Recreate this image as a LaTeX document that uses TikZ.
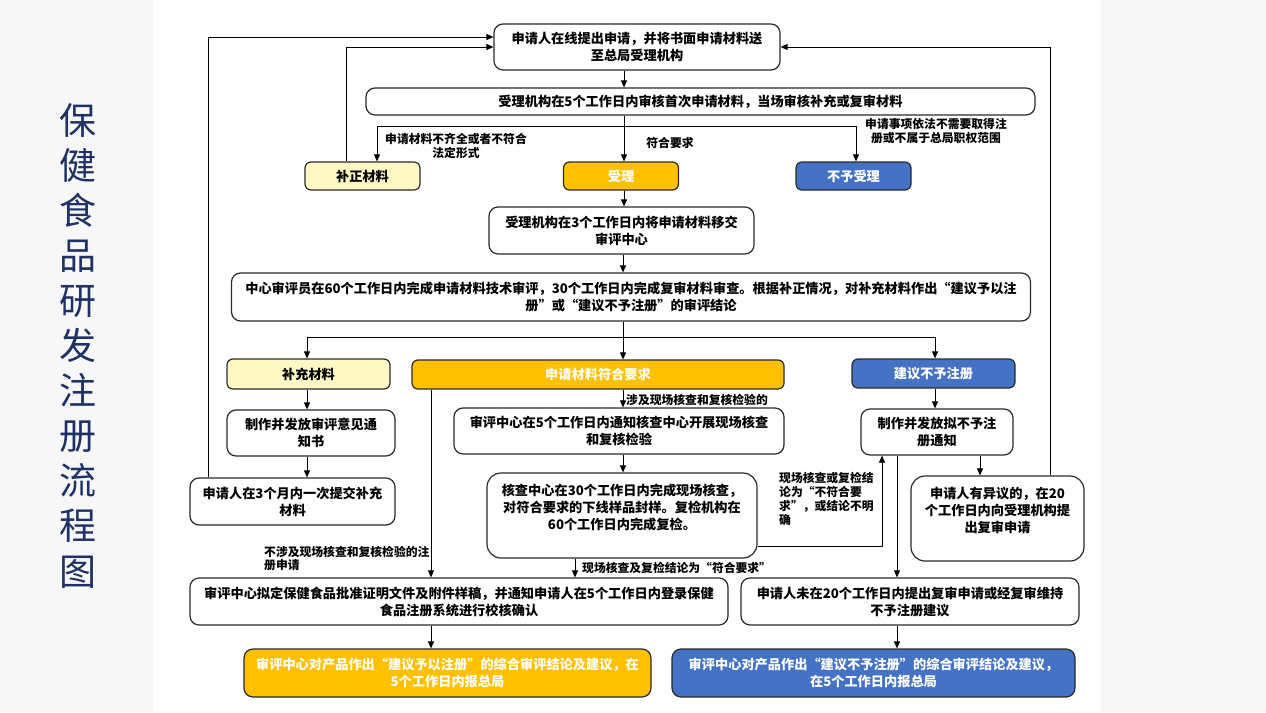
\documentclass[tikz,border=0pt]{standalone}
\usepackage{fontspec}
\setmainfont{Noto Sans CJK SC}
\usetikzlibrary{arrows.meta}
\definecolor{bgg}{HTML}{F7F7F7}
\definecolor{lineC}{HTML}{2A2A2A}
\definecolor{paleY}{HTML}{FFF8C5}
\definecolor{amber}{HTML}{FFC000}
\definecolor{blueB}{HTML}{4472C4}
\definecolor{titleC}{HTML}{1F3266}
\newcommand\mtext{\bfseries\fontsize{13.2}{17}\selectfont}
\newcommand\ltext{\bfseries\fontsize{11.8}{13.8}\selectfont}
\tikzset{
  wbox/.style={draw=lineC, line width=1.2pt, rounded corners=9pt, fill=white, align=center, inner sep=0pt, font=\mtext, text=black},
  tallbox/.style={wbox, rounded corners=14pt},
  ybox/.style={wbox, rounded corners=6pt, fill=paleY},
  abox/.style={wbox, rounded corners=6pt, fill=amber, text=white},
  bbox/.style={wbox, rounded corners=6pt, fill=blueB, text=white},
  lab/.style={font=\ltext, inner sep=0pt, text=black},
  conn/.style={draw=black, line width=0.9pt},
  arr/.style={conn, -{Triangle[length=7pt,width=6pt]}}
}
\begin{document}
\begin{tikzpicture}[x=1pt,y=-1pt]
\useasboundingbox (0,0) rectangle (1266,712);
\fill[bgg] (0,0) rectangle (1266,712);
\fill[white] (153,0) rectangle (1101,712);

% title
\node[font=\fontsize{37}{45.1}\selectfont, text=titleC, align=center, inner sep=0pt] (title) at (77.5,345.5)
  {保\\健\\食\\品\\研\\发\\注\\册\\流\\程\\图};

% boxes
\node[wbox, minimum width=286pt, minimum height=46pt] (b1) at (637,47) {申请人在线提出申请，并将书面申请材料送\\至总局受理机构};
\node[wbox, minimum width=669pt, minimum height=27pt] (b2) at (700.5,101.5) {受理机构在5个工作日内审核首次申请材料，当场审核补充或复审材料};
\node[ybox, minimum width=115pt, minimum height=28pt] (b3) at (362.5,176) {补正材料};
\node[abox, minimum width=115pt, minimum height=28pt] (b4) at (621,176) {受理};
\node[bbox, minimum width=115pt, minimum height=28pt] (b5) at (853.5,176) {不予受理};
\node[wbox, minimum width=265pt, minimum height=47pt] (b6) at (621.5,230.5) {受理机构在3个工作日内将申请材料移交\\审评中心};
\node[wbox, minimum width=799pt, minimum height=48pt] (b7) at (631,297) {中心审评员在60个工作日内完成申请材料技术审评，30个工作日内完成复审材料审查。根据补正情况，对补充材料作出“建议予以注\\册”或“建议不予注册”的审评结论};
\node[ybox, minimum width=163pt, minimum height=30pt] (b8) at (308.5,374) {补充材料};
\node[abox, minimum width=372pt, minimum height=29pt] (b9) at (598,374.5) {申请材料符合要求};
\node[bbox, minimum width=163pt, minimum height=29pt] (b10) at (933.5,373.5) {建议不予注册};
\node[wbox, minimum width=168pt, minimum height=46pt] (b11) at (311,433) {制作并发放审评意见通\\知书};
\node[wbox, minimum width=205pt, minimum height=47pt] (b12) at (292.5,501.5) {申请人在3个月内一次提交补充\\材料};
\node[wbox, minimum width=330pt, minimum height=46pt] (b13) at (619,431) {审评中心在5个工作日内通知核查中心开展现场核查\\和复核检验};
\node[tallbox, minimum width=270pt, minimum height=85pt] (b14) at (622,515.5) {核查中心在30个工作日内完成现场核查，\\对符合要求的下线样品封样。复检机构在\\60个工作日内完成复检。\\\mbox{}};
\node[wbox, minimum width=152pt, minimum height=46pt] (b15) at (937,432) {制作并发放拟不予注\\册通知};
\node[tallbox, minimum width=173pt, minimum height=85pt] (b16) at (997.5,518.5) {申请人有异议的，在20\\个工作日内向受理机构提\\出复审申请\\\mbox{}};
\node[wbox, minimum width=538pt, minimum height=47pt] (b17) at (459,601.5) {审评中心拟定保健食品批准证明文件及附件样稿，并通知申请人在5个工作日内登录保健\\食品注册系统进行校核确认};
\node[wbox, minimum width=338pt, minimum height=47pt] (b18) at (910,601.5) {申请人未在20个工作日内提出复审申请或经复审维持\\不予注册建议};
\node[abox, rounded corners=9pt, minimum width=407pt, minimum height=48pt] (b19) at (447.5,673) {审评中心对产品作出“建议予以注册”的综合审评结论及建议，在\\5个工作日内报总局};
\node[bbox, rounded corners=9pt, minimum width=403pt, minimum height=48pt] (b20) at (873.5,673) {审评中心对产品作出“建议不予注册”的综合审评结论及建议，\\在5个工作日内报总局};

% labels
\node[lab, align=center] (l1) at (456,146) {申请材料不齐全或者不符合\\法定形式};
\node[lab] (l2) at (670,143) {符合要求};
\node[lab, align=center] (l3) at (936,131) {申请事项依法不需要取得注\\册或不属于总局职权范围};
\node[lab, anchor=west] (l4) at (626,400) {涉及现场核查和复核检验的};
\node[lab, align=left, anchor=west] (l5) at (779,499) {现场核查或复检结\\论为“不符合要\\求”，或结论不明\\确};
\node[lab, anchor=west] (l6) at (582,568) {现场核查及复检结论为“符合要求”};
\node[lab, align=left, anchor=west] (l7) at (264,558.5) {不涉及现场核查和复核检验的注\\册申请};

% coordinates
\coordinate (j1) at (624,126);
\coordinate (jL) at (377,126);
\coordinate (jR) at (856,126);
\coordinate (f1) at (346,47);
\coordinate (f2) at (208,37);
\coordinate (f3) at (1050,47);
\coordinate (j2) at (623,337);
\coordinate (j2L) at (307,337);
\coordinate (j2R) at (935,337);
\coordinate (xa) at (431,0);
\coordinate (xb) at (575,0);
\coordinate (r1) at (882,546);
\coordinate (xc) at (980,0);
\coordinate (xd) at (897,0);

% connectors
\draw[arr] (b1.south -| j1) -- (b2.north -| j1);
\draw[conn] (b2.south -| j1) -- (j1);
\draw[arr] (j1) -- (b4.north -| j1);
\draw[arr] (j1) -- (jL) -- (b3.north -| jL);
\draw[arr] (j1) -- (jR) -- (b5.north -| jR);
\draw[arr] (b3.north -| f1) -- (f1) -- (b1.west |- f1);
\draw[arr] (b12.north -| f2) -- (f2) -- (b1.west |- f2);
\draw[arr] (b16.north -| f3) -- (f3) -- (b1.east |- f3);
\draw[arr] (b4.south -| j1) -- (b6.north -| j1);
\draw[arr] (b6.south -| j2) -- (b7.north -| j2);
\draw[conn] (b7.south -| j2) -- (j2);
\draw[arr] (j2) -- (b9.north -| j2);
\draw[arr] (j2) -- (j2L) -- (b8.north -| j2L);
\draw[arr] (j2) -- (j2R) -- (b10.north -| j2R);
\draw[arr] (b8.south -| j2L) -- (b11.north -| j2L);
\draw[arr] (b11.south -| j2L) -- (b12.north -| j2L);
\draw[arr] (b9.south -| j2) -- (b13.north -| j2);
\draw[arr] (b13.south -| j2) -- (b14.north -| j2);
\draw[arr] (b9.south -| xa) -- (b17.north -| xa);
\draw[arr] (b17.south -| xa) -- (b19.north -| xa);
\draw[arr] (b14.south -| xb) -- (b17.north -| xb);
\draw[arr] (b14.east |- r1) -- (r1) -- (b15.south -| r1);
\draw[arr] (b10.south -| j2R) -- (b15.north -| j2R);
\draw[arr] (b15.south -| xc) -- (b16.north -| xc);
\draw[arr] (b15.south -| xd) -- (b18.north -| xd);
\draw[arr] (b18.south -| xd) -- (b20.north -| xd);
\end{tikzpicture}
\end{document}
